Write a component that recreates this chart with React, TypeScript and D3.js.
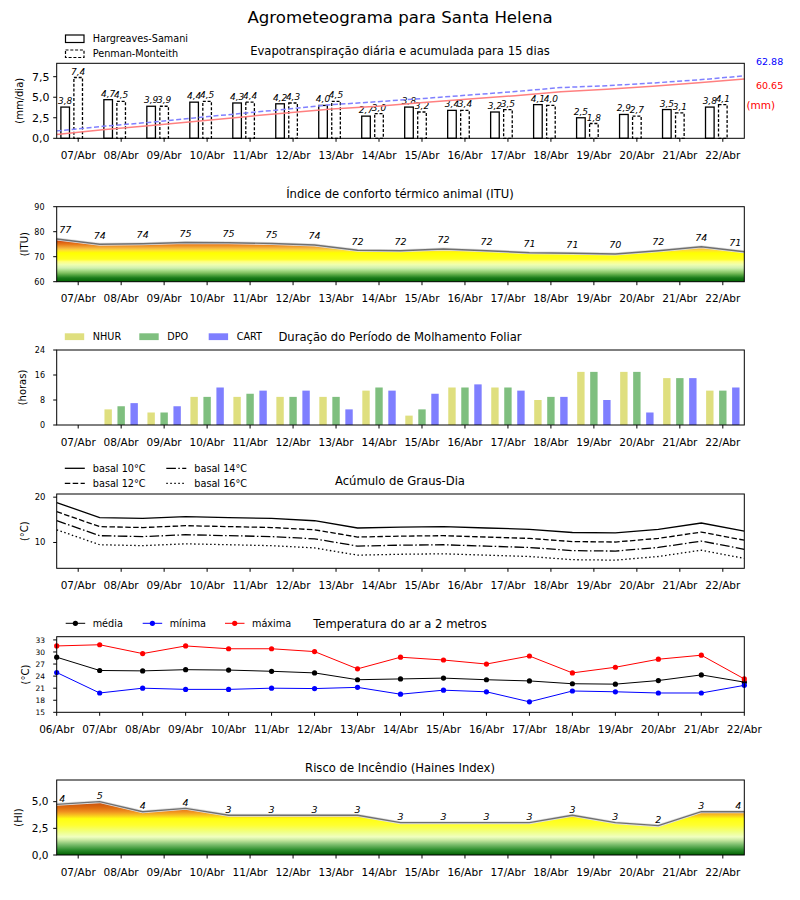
import React from 'react';
import * as d3 from 'd3';

const days = ['07/Abr', '08/Abr', '09/Abr', '10/Abr', '11/Abr', '12/Abr', '13/Abr', '14/Abr', '15/Abr', '16/Abr', '17/Abr', '18/Abr', '19/Abr', '20/Abr', '21/Abr', '22/Abr'];
const tempDays = ['06/Abr', ...days];

// evapotranspiração diária (mm/dia)
const etHargreaves = [3.8, 4.7, 3.9, 4.4, 4.3, 4.2, 4.0, 2.7, 3.8, 3.4, 3.2, 4.1, 2.5, 2.9, 3.5, 3.8];
const etPenman = [7.4, 4.5, 3.9, 4.5, 4.4, 4.3, 4.5, 3.0, 3.2, 3.4, 3.5, 4.0, 1.8, 2.7, 3.1, 4.1];
const etTotalHS = '60.65';
const etTotalPM = '62.88';

// ITU (valores nos limites dos dias) e rótulos
const ituValues = [77.1, 75.0, 75.2, 75.7, 75.6, 75.3, 74.7, 72.6, 72.4, 73.1, 72.4, 71.6, 71.4, 71.1, 72.4, 74.0, 72.0];
const ituLabels = [77, 74, 74, 75, 75, 75, 74, 72, 72, 72, 72, 71, 71, 70, 72, 74, 71];

// molhamento foliar (horas)
const wetNhur = [0, 5, 4, 9, 9, 9, 9, 11, 3, 12, 12, 8, 17, 17, 15, 11];
const wetDpo = [0, 6, 4, 9, 10, 9, 9, 12, 5, 12, 12, 9, 17, 17, 15, 11];
const wetCart = [0, 7, 6, 12, 11, 11, 5, 11, 10, 13, 11, 9, 8, 4, 15, 12];

// graus-dia
const gdBasal10 = [18.8, 15.5, 15.3, 15.7, 15.5, 15.3, 14.8, 13.2, 13.4, 13.5, 13.2, 12.9, 12.2, 12.1, 12.9, 14.3, 12.5];
const gdBasal12 = [16.8, 13.5, 13.3, 13.7, 13.5, 13.3, 12.8, 11.2, 11.4, 11.5, 11.2, 10.9, 10.2, 10.1, 10.9, 12.3, 10.5];
const gdBasal14 = [14.8, 11.5, 11.3, 11.7, 11.5, 11.3, 10.8, 9.2, 9.4, 9.5, 9.2, 8.9, 8.2, 8.1, 8.9, 10.3, 8.5];
const gdBasal16 = [12.8, 9.5, 9.3, 9.7, 9.5, 9.3, 8.8, 7.2, 7.4, 7.5, 7.2, 6.9, 6.2, 6.1, 6.9, 8.3, 6.5];

// temperatura do ar (°C)
const tMedia = [28.7, 25.4, 25.3, 25.6, 25.5, 25.2, 24.8, 23.1, 23.3, 23.5, 23.1, 22.8, 22.1, 22.0, 22.9, 24.3, 22.5];
const tMinima = [24.9, 19.8, 21.0, 20.7, 20.7, 21.0, 20.9, 21.2, 19.5, 20.5, 20.1, 17.6, 20.3, 20.1, 19.8, 19.8, 21.7];
const tMaxima = [31.5, 31.8, 29.6, 31.5, 30.8, 30.8, 30.1, 25.8, 28.7, 28.0, 27.0, 29.0, 24.8, 26.2, 28.2, 29.2, 23.3];

// Haines
const hainesValues = [4.75, 5.0, 4.06, 4.37, 3.72, 3.72, 3.72, 3.72, 3.03, 3.03, 3.03, 3.03, 3.72, 3.03, 2.75, 4.06, 4.06];
const hainesLabels = [4, 5, 4, 4, 3, 3, 3, 3, 3, 3, 3, 3, 3, 3, 2, 3, 4];

const ituStops: [number, string][] = [
  [60, '#006400'], [61.5, '#1a7a1a'], [62.5, '#4a9f3a'], [63.5, '#80c060'], [64.5, '#a8dc88'],
  [65.5, '#d0f0b0'], [66.8, '#eeffb0'], [68, '#ffff80'], [69, '#ffff20'], [71.5, '#ffff00'],
  [72.5, '#ffe030'], [73.2, '#f8c040'], [74, '#f0a030'], [75, '#e87818'], [76, '#d85810'], [77, '#c81800'],
];
const hainesStops: [number, string][] = [
  [0, '#006000'], [0.5, '#309030'], [1.0, '#80c070'], [1.4, '#c8e8a0'], [1.7, '#f0ffc0'],
  [2.2, '#f0ff80'], [2.8, '#ffff30'], [3.4, '#ffff10'], [3.75, '#f8c020'], [4.06, '#f09020'],
  [4.4, '#e07010'], [4.9, '#c85010'],
];

const FONT = 'DejaVu Sans, sans-serif';
const L = 56.7;
const R = 744.3;
const xDay = d3.scaleLinear().domain([-0.5, 15.5]).range([L, R]);
const xEdge = d3.scaleLinear().domain([0, 16]).range([L, R]);
const xCum = d3.scaleLinear().domain([0, 15]).range([L, R]);
const comma = (v: number) => v.toFixed(1).replace('.', ',');

function Axes({ top, bottom, y, yTicks, fmt = (v: number) => String(v), yFont, yEnd, xs, xLabels, yLabel, yLabelX, children }: any) {
  return (
    <g>
      {children}
      <rect x={L} y={top} width={R - L} height={bottom - top} fill="none" stroke="#000" strokeWidth={1} />
      {yTicks.map((t: number) => (
        <g key={t}>
          <line x1={L - 3.5} x2={L} y1={y(t)} y2={y(t)} stroke="#000" />
          <text x={yEnd} y={y(t)} dy="0.35em" textAnchor="end" fontSize={yFont}>{fmt(t)}</text>
        </g>
      ))}
      {xs.map((x: number, i: number) => (
        <g key={i}>
          <line x1={x} x2={x} y1={bottom} y2={bottom + 3.5} stroke="#000" />
          <text x={x} y={bottom + 20.5} textAnchor="middle" fontSize={10.5}>{xLabels[i]}</text>
        </g>
      ))}
      <text transform={`translate(${yLabelX},${(top + bottom) / 2}) rotate(-90)`} textAnchor="middle" dy="0.35em" fontSize={10}>{yLabel}</text>
    </g>
  );
}

function Gradient({ id, stops, y }: any) {
  const lo = stops[0][0];
  const hi = stops[stops.length - 1][0];
  return (
    <linearGradient id={id} gradientUnits="userSpaceOnUse" x1={0} x2={0} y1={y(lo)} y2={y(hi)}>
      {stops.map(([v, c]: [number, string]) => (
        <stop key={v} offset={(v - lo) / (hi - lo)} stopColor={c} />
      ))}
    </linearGradient>
  );
}

function Evapo() {
  const top = 63.3, bottom = 138.3;
  const y = d3.scaleLinear().domain([0, 9.13]).range([bottom, top]);
  const cumHS = d3.cumsum(etHargreaves);
  const cumPM = d3.cumsum(etPenman);
  const yCum = d3.scaleLinear().domain([0, 1.2 * (d3.max(cumPM) as number)]).range([bottom, top]);
  const line = d3.line<number>().x((_, i) => xCum(i)).y((d) => yCum(d));
  const bw = 8.6;
  return (
    <Axes top={top} bottom={bottom} y={y} yTicks={[0, 2.5, 5, 7.5]} fmt={comma} yFont={11} yEnd={49.5}
      xs={days.map((_, i) => xDay(i))} xLabels={days} yLabel="(mm/dia)" yLabelX={19.5}>
      {etHargreaves.map((v, i) => {
        const cx = xDay(i) - 13;
        return (
          <g key={'h' + i}>
            <rect x={cx - bw / 2} y={y(v)} width={bw} height={bottom - y(v)} fill="#fff" stroke="#000" strokeWidth={1.3} />
            <text x={cx} y={y(v) - 3} textAnchor="middle" fontSize={9} fontStyle="italic">{comma(v)}</text>
          </g>
        );
      })}
      {etPenman.map((v, i) => {
        const cx = xDay(i);
        return (
          <g key={'p' + i}>
            <rect x={cx - bw / 2} y={y(v)} width={bw} height={bottom - y(v)} fill="#fff" stroke="#000" strokeWidth={1.3} strokeDasharray="3,1.8" />
            <text x={cx} y={y(v) - 3} textAnchor="middle" fontSize={9} fontStyle="italic">{comma(v)}</text>
          </g>
        );
      })}
      <path d={line(cumHS) as string} fill="none" stroke="#ff8080" strokeWidth={1.5} />
      <path d={line(cumPM) as string} fill="none" stroke="#8080ff" strokeWidth={1.5} strokeDasharray="5,2.5" />
      <text x={756} y={65} fontSize={9.5} fill="#0000ff">{etTotalPM}</text>
      <text x={756} y={89} fontSize={9.5} fill="#ff0000">{etTotalHS}</text>
      <text x={746.5} y={109} fontSize={10.5} fill="#ff0000">(mm)</text>
      <rect x={65.5} y={35} width={18.5} height={7.5} fill="#fff" stroke="#000" strokeWidth={1.2} />
      <rect x={65.5} y={50} width={18.5} height={7.5} fill="#fff" stroke="#000" strokeWidth={1.2} strokeDasharray="3,1.8" />
      <text x={92.7} y={42} fontSize={9.7}>Hargreaves-Samani</text>
      <text x={92.7} y={57} fontSize={9.7}>Penman-Monteith</text>
      <text x={400} y={55} textAnchor="middle" fontSize={11.6}>Evapotranspiração diária e acumulada para 15 dias</text>
    </Axes>
  );
}

function Gauge({ id, top, bottom, domain, yTicks, fmt, yFont, yEnd, values, labels, stops, yLabel, yLabelX, title, titleY, labelOff }: any) {
  const y = d3.scaleLinear().domain(domain).range([bottom, top]);
  const area = d3.area<number>().x((_, i) => xEdge(i)).y0(bottom).y1((d) => y(d));
  const line = d3.line<number>().x((_, i) => xEdge(i)).y((d) => y(d));
  return (
    <Axes top={top} bottom={bottom} y={y} yTicks={yTicks} fmt={fmt} yFont={yFont} yEnd={yEnd}
      xs={days.map((_, i) => xDay(i))} xLabels={days} yLabel={yLabel} yLabelX={yLabelX}>
      <defs><Gradient id={id} stops={stops} y={y} /></defs>
      <path d={area(values) as string} fill={`url(#${id})`} />
      <path d={line(values) as string} fill="none" stroke="#e0e0e0" strokeWidth={3} />
      <path d={line(values) as string} fill="none" stroke="#707070" strokeWidth={1.4} />
      {labels.map((lab: number, j: number) => {
        const last = j === labels.length - 1;
        const x = j === 0 ? L + 2.5 : last ? R - 3 : xEdge(j);
        const anchor = j === 0 ? 'start' : last ? 'end' : 'middle';
        return (
          <text key={j} x={x} y={y(values[j]) - labelOff} textAnchor={anchor} fontSize={9.5} fontStyle="italic">{lab}</text>
        );
      })}
      <text x={400} y={titleY} textAnchor="middle" fontSize={11.6}>{title}</text>
    </Axes>
  );
}

function Wetness() {
  const top = 350, bottom = 425;
  const y = d3.scaleLinear().domain([0, 24]).range([bottom, top]);
  const series: [number[], string, number, string][] = [
    [wetNhur, '#dfdf7f', -13, 'NHUR'],
    [wetDpo, '#7fbf7f', 0, 'DPO'],
    [wetCart, '#7f7fff', 13, 'CART'],
  ];
  const legendX = [64.8, 139.3, 208.7];
  const bw = 7.4;
  return (
    <Axes top={top} bottom={bottom} y={y} yTicks={[0, 8, 16, 24]} yFont={8} yEnd={45}
      xs={days.map((_, i) => xDay(i))} xLabels={days} yLabel="(horas)" yLabelX={22.8}>
      {series.map(([vals, color, off]) =>
        vals.map((v, i) => (
          <rect key={color + i} x={xDay(i) + off - bw / 2} y={y(v)} width={bw} height={bottom - y(v)} fill={color} />
        ))
      )}
      {series.map(([, color, , name], k) => (
        <g key={name}>
          <rect x={legendX[k]} y={333.3} width={19.4} height={6.8} fill={color} />
          <text x={legendX[k] + 28} y={340.2} fontSize={9.7}>{name}</text>
        </g>
      ))}
      <text x={400} y={341} textAnchor="middle" fontSize={11.6}>Duração do Período de Molhamento Foliar</text>
    </Axes>
  );
}

function DegreeDays() {
  const top = 494, bottom = 568.3;
  const y = d3.scaleLinear().domain([4.3, 20.7]).range([bottom, top]);
  const line = d3.line<number>().x((_, i) => xEdge(i)).y((d) => y(d));
  const series: [number[], string, string, number, number][] = [
    [gdBasal10, 'basal 10°C', '', 64.8, 468.3],
    [gdBasal12, 'basal 12°C', '5.5,2.4', 64.8, 483.3],
    [gdBasal14, 'basal 14°C', '9.6,2.4,1.5,2.4', 166.3, 468.3],
    [gdBasal16, 'basal 16°C', '1.5,2.5', 166.3, 483.3],
  ];
  return (
    <Axes top={top} bottom={bottom} y={y} yTicks={[10, 20]} yFont={8.5} yEnd={45.5}
      xs={days.map((_, i) => xDay(i))} xLabels={days} yLabel="(°C)" yLabelX={24}>
      <clipPath id="gdclip"><rect x={L} y={top} width={R - L} height={bottom - top} /></clipPath>
      <g clipPath="url(#gdclip)">
        {series.map(([vals, name, dash]) => (
          <path key={name} d={line(vals) as string} fill="none" stroke="#000" strokeWidth={1.3} strokeDasharray={dash || undefined} />
        ))}
      </g>
      {series.map(([, name, dash, lx, ly]) => (
        <g key={'l' + name}>
          <line x1={lx} x2={lx + 20} y1={ly} y2={ly} stroke="#000" strokeWidth={1.3} strokeDasharray={dash || undefined} />
          <text x={lx + 28} y={ly + 3.5} fontSize={9.7}>{name}</text>
        </g>
      ))}
      <text x={400} y={485} textAnchor="middle" fontSize={11.6}>Acúmulo de Graus-Dia</text>
    </Axes>
  );
}

function Temperature() {
  const top = 636.7, bottom = 712.3;
  const y = d3.scaleLinear().domain([15, 33.8]).range([bottom, top]);
  const line = d3.line<number>().x((_, i) => xEdge(i)).y((d) => y(d));
  const series: [number[], string, string, number][] = [
    [tMedia, '#000000', 'média', 65.7],
    [tMinima, '#0000ff', 'mínima', 142.7],
    [tMaxima, '#ff0000', 'máxima', 225],
  ];
  return (
    <Axes top={top} bottom={bottom} y={y} yTicks={[15, 18, 21, 24, 27, 30, 33]} yFont={7.5} yEnd={45}
      xs={tempDays.map((_, i) => xEdge(i))} xLabels={tempDays} yLabel="(°C)" yLabelX={25}>
      {series.map(([vals, color, name]) => (
        <g key={name}>
          <path d={line(vals) as string} fill="none" stroke={color} strokeWidth={1} />
          {vals.map((v, i) => <circle key={i} cx={xEdge(i)} cy={y(v)} r={2.6} fill={color} />)}
        </g>
      ))}
      {series.map(([, color, name, lx]) => (
        <g key={'l' + name}>
          <line x1={lx} x2={lx + 19.5} y1={623.3} y2={623.3} stroke={color} strokeWidth={1} />
          <circle cx={lx + 9.7} cy={623.3} r={2.6} fill={color} />
          <text x={lx + 27} y={626.8} fontSize={9.7}>{name}</text>
        </g>
      ))}
      <text x={400} y={628} textAnchor="middle" fontSize={11.6}>Temperatura do ar a 2 metros</text>
    </Axes>
  );
}

export default function App() {
  return (
    <svg width={800} height={900} style={{ position: 'absolute', left: 0, top: 0, background: '#fff' }}
      fontFamily={FONT} xmlns="http://www.w3.org/2000/svg">
      <rect width={800} height={900} fill="#fff" />
      <text x={400} y={23} textAnchor="middle" fontSize={16.6}>Agrometeograma para Santa Helena</text>
      <Evapo />
      <Gauge id="itugrad" top={206.7} bottom={281.7} domain={[60, 90]} yTicks={[60, 70, 80, 90]} yFont={8} yEnd={44.5}
        values={ituValues} labels={ituLabels} stops={ituStops} yLabel="(ITU)" yLabelX={24.7} labelOff={5.5}
        title="Índice de conforto térmico animal (ITU)" titleY={198} />
      <Wetness />
      <DegreeDays />
      <Temperature />
      <Gauge id="hainesgrad" top={780} bottom={855} domain={[0, 7.03]} yTicks={[0, 2.5, 5]} fmt={comma} yFont={10.5} yEnd={48.5}
        values={hainesValues} labels={hainesLabels} stops={hainesStops} yLabel="(HI)" yLabelX={18} labelOff={2.5}
        title="Risco de Incêndio (Haines Index)" titleY={771.7} />
    </svg>
  );
}
